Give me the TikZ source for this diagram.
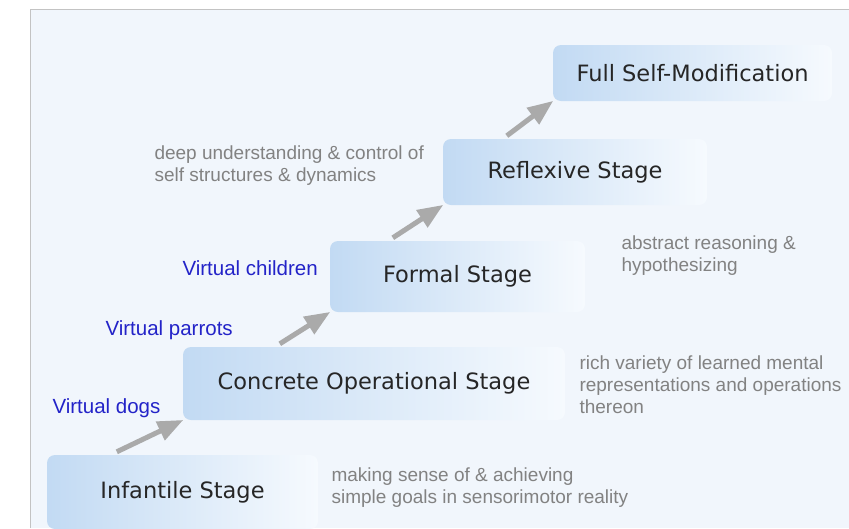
\documentclass[tikz,border=0pt]{standalone}
\usepackage{fontspec}
\setmainfont{Liberation Sans}
\newfontfamily\boxfont{DejaVu Sans}
\usepackage{tikz}
\usetikzlibrary{arrows,shapes}
\definecolor{stageleft}{RGB}{194,218,243}
\definecolor{stageright}{RGB}{246,250,254}
\definecolor{paper}{RGB}{241,246,252}
\definecolor{frameline}{RGB}{195,195,195}
\definecolor{notegray}{RGB}{130,130,130}
\definecolor{virtblue}{RGB}{35,35,200}
\definecolor{arrowgray}{RGB}{170,170,170}
\tikzstyle{stage}=[rectangle,rounded corners=8pt,left color=stageleft,right color=stageright,text=black!85,inner sep=0pt,font=\boxfont\fontsize{22.5}{26}\selectfont]
\tikzstyle{note}=[anchor=west,align=left,text=notegray,font=\fontsize{19}{22}\selectfont]
\tikzstyle{virt}=[anchor=west,text=virtblue,font=\fontsize{20.5}{24}\selectfont]
\tikzstyle{climb} = [draw,line width=5pt,arrowgray,-triangle 45]

\begin{document}
\begin{tikzpicture}[x=1pt,y=-1pt]
    \useasboundingbox (0,0) rectangle (849,528);
    % Page and its frame
    \fill[white] (0,0) rectangle (849,528);
    \fill[paper] (30,9) rectangle (849,528);
    \draw[frameline] (30,528) -- (30,9) -- (849,9);
    % The stages, bottom to top
    \foreach \pos/\name/\bw/\bh/\txt in {{(182.5,492)/infant/271/74/Infantile Stage},
            {(374,383.5)/concrete/382/73/Concrete Operational Stage},
            {(457.5,276.5)/formal/255/71/Formal Stage},
            {(575,172)/reflex/264/66/Reflexive Stage},
            {(692.5,73)/full/279/56/Full Self-Modification}}
        \node[stage,minimum width=\bw pt,minimum height=\bh pt] (\name) at \pos {\txt};
    % Arrows climbing from one stage to the next
    \foreach \source/\dest/\off in {infant/concrete/70, concrete/formal/97, formal/reflex/63, reflex/full/64}
        \path[climb] ([xshift=\off pt,yshift=3pt]\source.north west) -- (\dest.south west);
    % What each stage stands for
    \node[note] (infantnote) at (328,487.5) {making sense of \& achieving\\simple goals in sensorimotor reality};
    \node[note] (concretenote) at (576,385) {rich variety of learned mental\\representations and operations\\thereon};
    \node[note] (formalnote) at (618,256) {abstract reasoning \&\\hypothesizing};
    \node[note] (reflexnote) at (151,166) {deep understanding \& control of\\self structures \& dynamics};
    % Virtual agents along the way
    \node[virt] (dogs) at (49,408) {Virtual dogs};
    \node[virt] (parrots) at (102,330) {Virtual parrots};
    \node[virt] (children) at (179,268) {Virtual children};
\end{tikzpicture}
\end{document}
